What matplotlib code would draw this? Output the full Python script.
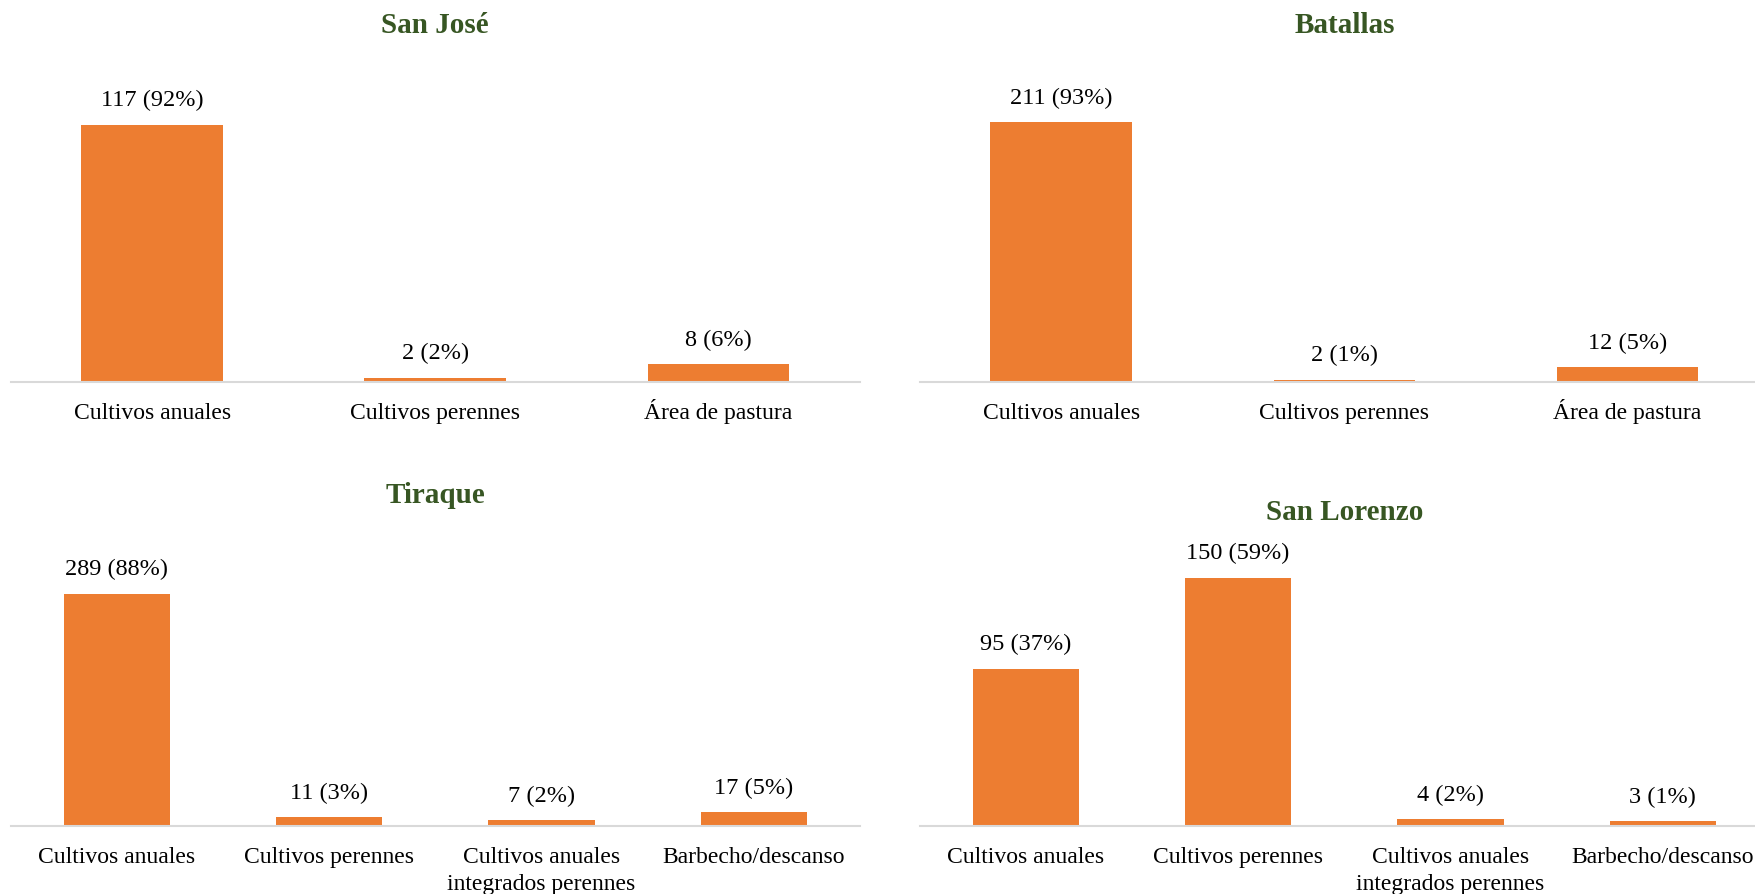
import matplotlib.pyplot as plt

plt.rcParams['font.family'] = ['Liberation Serif', 'DejaVu Serif']

# data
san_jose_cats = ["Cultivos anuales", "Cultivos perennes", "Área de pastura"]
san_jose_vals = [117, 2, 8]
san_jose_pct = [92, 2, 6]

batallas_cats = ["Cultivos anuales", "Cultivos perennes", "Área de pastura"]
batallas_vals = [211, 2, 12]
batallas_pct = [93, 1, 5]

tiraque_cats = ["Cultivos anuales", "Cultivos perennes",
                "Cultivos anuales\nintegrados perennes", "Barbecho/descanso"]
tiraque_vals = [289, 11, 7, 17]
tiraque_pct = [88, 3, 2, 5]

lorenzo_cats = ["Cultivos anuales", "Cultivos perennes",
                "Cultivos anuales\nintegrados perennes", "Barbecho/descanso"]
lorenzo_vals = [95, 150, 4, 3]
lorenzo_pct = [37, 59, 2, 1]

bar_color = "#ED7D31"
title_color = "#375623"

fig = plt.figure(figsize=(17.55, 8.95), dpi=100)

panels = [
    ("San José", san_jose_cats, san_jose_vals, san_jose_pct, [0.006, 0.572, 0.484, 0.344], 140),
    ("Batallas", batallas_cats, batallas_vals, batallas_pct, [0.524, 0.572, 0.484, 0.344], 250),
    ("Tiraque", tiraque_cats, tiraque_vals, tiraque_pct, [0.006, 0.076, 0.484, 0.314], 350),
    ("San Lorenzo", lorenzo_cats, lorenzo_vals, lorenzo_pct, [0.524, 0.076, 0.484, 0.296], 160),
]

for title, cats, vals, pct, rect, ymax in panels:
    ax = fig.add_axes(rect)
    x = list(range(len(cats)))
    ax.bar(x, vals, width=0.5, color=bar_color)
    ax.set_xlim(-0.5, len(cats) - 0.5)
    ax.set_ylim(0, ymax)
    for xi, v, p in zip(x, vals, pct):
        ax.annotate(f"{v} ({p}%)", xy=(xi, v), xytext=(0, 18), textcoords='offset points',
                    ha='center', va='center', fontsize=17.5)
    # category labels, each line on its own baseline
    for xi, cat in zip(x, cats):
        for k, line in enumerate(cat.split("\n")):
            ax.annotate(line, xy=(xi, 0), xytext=(0, -26 - 19.5 * k),
                        textcoords='offset points', ha='center', va='baseline',
                        fontsize=17, annotation_clip=False)
    ax.set_xticks([])
    ax.set_yticks([])
    for s in ['top', 'right', 'left']:
        ax.spines[s].set_visible(False)
    ax.spines['bottom'].set_color('#D9D9D9')
    ax.spines['bottom'].set_linewidth(1.5)
    ax.annotate(title, xy=(0.5, 1), xycoords='axes fraction', xytext=(0, 36),
                textcoords='offset points', ha='center', va='center',
                fontsize=21, fontweight='bold', color=title_color)

fig.savefig("out.png", dpi=100)
